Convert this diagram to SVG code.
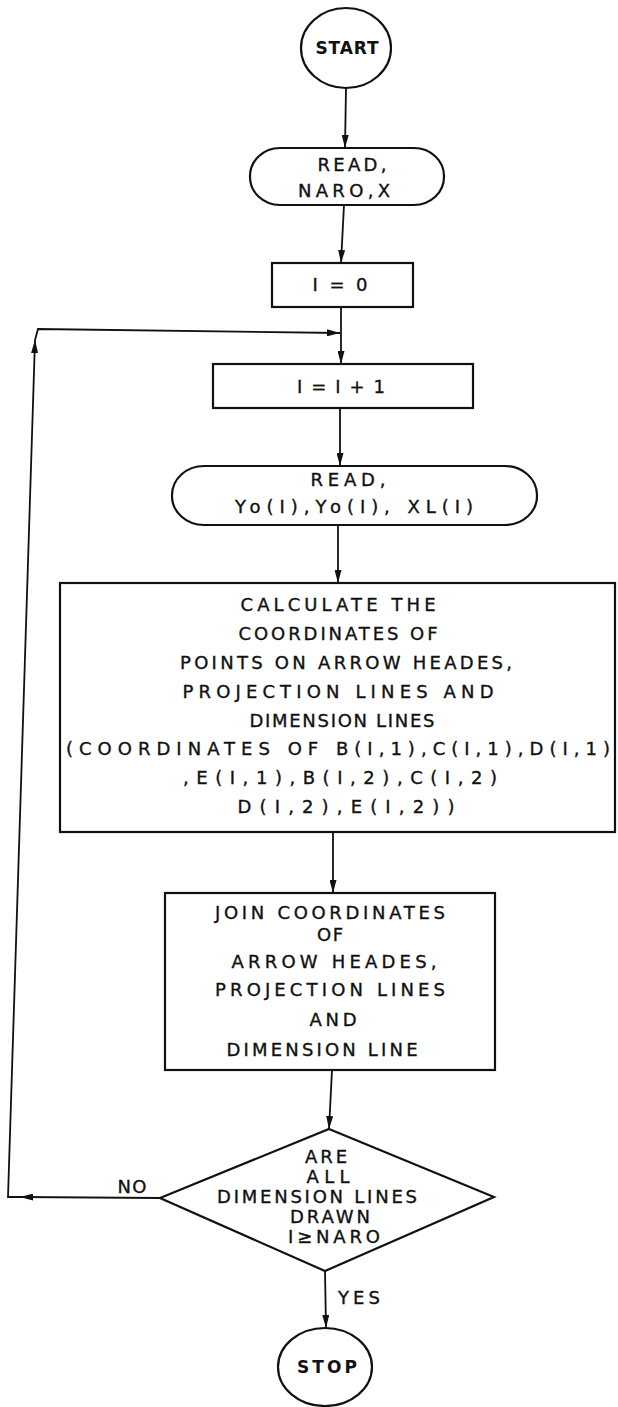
<svg xmlns="http://www.w3.org/2000/svg" width="618" height="1407" viewBox="0 0 618 1407">
<style>
.s{fill:none;stroke:#111;stroke-width:2.2}
.c{fill:none;stroke:#111;stroke-width:1.8}
.t{font-family:"DejaVu Sans","Liberation Sans",sans-serif;font-size:18px;fill:#111;stroke:#111;stroke-width:0.35;text-anchor:middle}
.b{font-weight:bold;font-size:17px;stroke-width:0}
</style>
<defs>
<marker id="ah" markerWidth="13" markerHeight="7" refX="13" refY="3.5" orient="auto" markerUnits="userSpaceOnUse">
<path d="M0,0 L13,3.5 L0,7 z" fill="#111"/>
</marker>
</defs>
<rect x="0" y="0" width="618" height="1407" fill="#fff"/>
<g id="connectors">
<path class="c" d="M346,88 L345,148" marker-end="url(#ah)"/>
<path class="c" d="M344,205 L341,263" marker-end="url(#ah)"/>
<path class="c" d="M341,307 L341,364" marker-end="url(#ah)"/>
<path class="c" d="M340,408 L340,466" marker-end="url(#ah)"/>
<path class="c" d="M338,525 L338,583" marker-end="url(#ah)"/>
<path class="c" d="M333,832 L333,893" marker-end="url(#ah)"/>
<path class="c" d="M332,1070 L329,1129" marker-end="url(#ah)"/>
<path class="c" d="M325,1271 L326,1328" marker-end="url(#ah)"/>
<path class="c" d="M160,1198 L20,1197" marker-end="url(#ah)"/>
<path class="c" d="M20,1197 L8,1197 L35,340" marker-end="url(#ah)"/>
<path class="c" d="M35,340 L38,329 L340,333" marker-end="url(#ah)"/>
</g>
<g id="start">
<ellipse class="s" cx="346" cy="48" rx="45" ry="40"/>
<text class="t b" x="347" y="54" textLength="63">START</text>
</g>
<g id="read1">
<rect class="s" x="250" y="148" width="194" height="57" rx="30" ry="28"/>
<text class="t" x="352" y="171" textLength="69">READ,</text>
<text class="t" x="344" y="197" textLength="92">NARO,X</text>
</g>
<g id="init">
<rect class="s" x="272" y="263" width="141" height="44"/>
<text class="t" x="340" y="291" textLength="55">I = 0</text>
</g>
<g id="incr">
<rect class="s" x="213" y="364" width="260" height="44"/>
<text class="t" x="341" y="393" textLength="88">I = I + 1</text>
</g>
<g id="read2">
<rect class="s" x="172" y="466" width="365" height="59" rx="32" ry="29"/>
<text class="t" x="348" y="486" textLength="75">READ,</text>
<text class="t" x="354" y="513" textLength="238">Yo(I),Yo(I), XL(I)</text>
</g>
<g id="calc">
<rect class="s" x="60" y="583" width="555" height="249"/>
<text class="t" x="338" y="611" textLength="195">CALCULATE THE</text>
<text class="t" x="338" y="640" textLength="199">COORDINATES OF</text>
<text class="t" x="346" y="669" textLength="332">POINTS ON ARROW HEADES,</text>
<text class="t" x="338" y="698" textLength="311">PROJECTION LINES AND</text>
<text class="t" x="342" y="727" textLength="185">DIMENSION LINES</text>
<text class="t" x="338" y="755" textLength="544">(COORDINATES OF B(I,1),C(I,1),D(I,1)</text>
<text class="t" x="340" y="784" textLength="314">,E(I,1),B(I,2),C(I,2)</text>
<text class="t" x="346" y="813" textLength="217">D(I,2),E(I,2))</text>
</g>
<g id="join">
<rect class="s" x="165" y="893" width="330" height="177"/>
<text class="t" x="330" y="919" textLength="230">JOIN COORDINATES</text>
<text class="t" x="330" y="941" textLength="26">OF</text>
<text class="t" x="334" y="968" textLength="205">ARROW HEADES,</text>
<text class="t" x="330" y="996" textLength="230">PROJECTION LINES</text>
<text class="t" x="333" y="1026" textLength="47">AND</text>
<text class="t" x="322" y="1056" textLength="191">DIMENSION LINE</text>
</g>
<g id="decision">
<polygon class="s" points="329,1129 494,1197 325,1271 160,1198"/>
<text class="t" x="326" y="1163" textLength="42">ARE</text>
<text class="t" x="328" y="1183" textLength="43">ALL</text>
<text class="t" x="317" y="1203" textLength="200">DIMENSION LINES</text>
<text class="t" x="330" y="1223" textLength="80">DRAWN</text>
<text class="t" x="334" y="1243" textLength="92">I≥NARO</text>
</g>
<g id="labels">
<text class="t" x="132" y="1193" textLength="29">NO</text>
<text class="t" x="359" y="1304" textLength="42">YES</text>
</g>
<g id="stop">
<ellipse class="s" cx="325" cy="1367" rx="47" ry="39"/>
<text class="t b" x="327" y="1373" textLength="60">STOP</text>
</g>
</svg>
